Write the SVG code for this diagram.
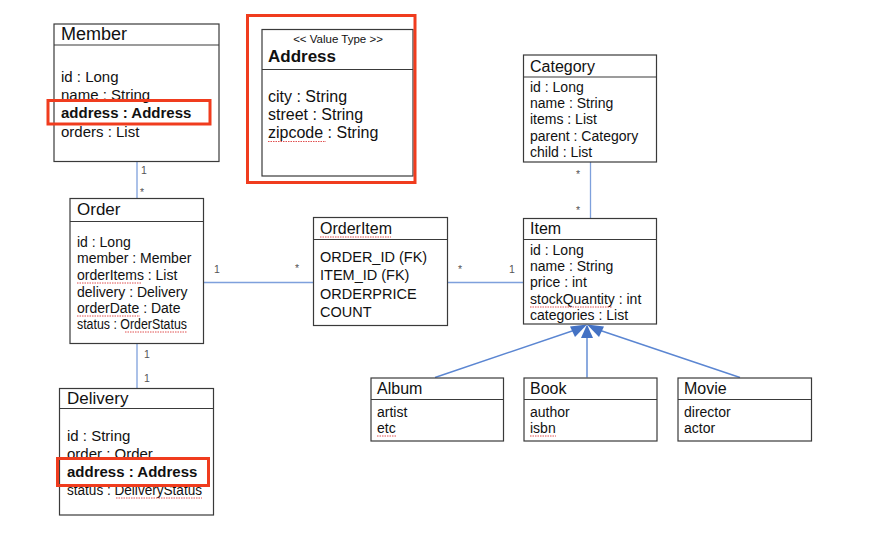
<svg xmlns="http://www.w3.org/2000/svg" width="877" height="533" viewBox="0 0 877 533">
<style>
.box{fill:#fff;stroke:#3a3a3a;stroke-width:1.2}
.sep{stroke:#3a3a3a;stroke-width:1.2}
.t{font-family:"Liberation Sans",Arial,sans-serif;fill:#111}
.title{font-size:17px}
.a15{font-size:15px}
.a14{font-size:14px}
.b{font-weight:bold}
.conn{stroke:#7ea0dc;stroke-width:1.3;fill:none}
.gen{stroke:#5b86d2;stroke-width:1.4;fill:none}
.head{fill:#4472c4}
.m{font-family:"Liberation Sans",Arial,sans-serif;font-size:10.5px;fill:#555}
.hl{fill:none;stroke:#f03c1e;stroke-width:3}
.spell{stroke:#e05050;stroke-width:1;stroke-dasharray:1.5 1}
</style>
<rect width="877" height="533" fill="#fff"/>

<g id="connectors">
  <line class="conn" x1="137" y1="162" x2="137" y2="198"/>
  <text class="m" x="141" y="174">1</text>
  <text class="m" x="140" y="196">*</text>
  <line class="conn" x1="137" y1="343" x2="137" y2="388"/>
  <text class="m" x="144" y="358">1</text>
  <text class="m" x="144" y="382">1</text>
  <line class="conn" x1="204" y1="282.5" x2="313" y2="282.5"/>
  <text class="m" x="214" y="273">1</text>
  <text class="m" x="295" y="272">*</text>
  <line class="conn" x1="448" y1="282.5" x2="523" y2="282.5"/>
  <text class="m" x="458" y="273">*</text>
  <text class="m" x="509" y="273">1</text>
  <line class="conn" x1="590.5" y1="162" x2="590.5" y2="218"/>
  <text class="m" x="576" y="178">*</text>
  <text class="m" x="576" y="214">*</text>
  <line class="gen" x1="435" y1="377.5" x2="578" y2="329"/>
  <line class="gen" x1="587" y1="377.5" x2="587" y2="337"/>
  <line class="gen" x1="740" y1="377.5" x2="596" y2="329"/>
  <polygon class="head" points="587,324.5 575,337 570,326.5"/>
  <polygon class="head" points="587,324.5 593,338 581,338"/>
  <polygon class="head" points="587,324.5 604,326.5 599,337"/>
</g>

<g id="member">
  <rect class="box" x="54" y="24" width="165" height="137.5"/>
  <line class="sep" x1="54" y1="45" x2="219" y2="45"/>
  <text class="t" x="61" y="40" font-size="18">Member</text>
  <text class="t a15" x="61" y="82">id : Long</text>
  <text class="t a15" x="61" y="100">name : String</text>
  <text class="t a15 b" x="61" y="118">address : Address</text>
  <text class="t a15" x="61" y="137">orders : List</text>
  <rect class="hl" x="48" y="100.5" width="162" height="23.5"/>
</g>

<g id="address">
  <rect class="box" x="262" y="29.5" width="151" height="146.5"/>
  <line class="sep" x1="262" y1="69.5" x2="413" y2="69.5"/>
  <text class="t" x="338" y="43" font-size="11.5" text-anchor="middle">&lt;&lt; Value Type &gt;&gt;</text>
  <text class="t b" x="268" y="62" font-size="17">Address</text>
  <text class="t" x="268" y="102" font-size="16">city : String</text>
  <text class="t" x="268" y="120" font-size="16">street : String</text>
  <text class="t" x="268" y="138" font-size="16">zipcode : String</text>
  <line class="spell" x1="268" y1="141.5" x2="326" y2="141.5"/>
  <rect class="hl" x="247.5" y="15.5" width="167.5" height="167"/>
</g>

<g id="order">
  <rect class="box" x="70" y="198.5" width="133.5" height="145"/>
  <line class="sep" x1="70" y1="221.5" x2="203.5" y2="221.5"/>
  <text class="t title" x="77" y="215">Order</text>
  <text class="t a14" x="77" y="247">id : Long</text>
  <text class="t a14" x="77" y="263">member : Member</text>
  <text class="t a14" x="77" y="280">orderItems : List</text>
  <text class="t a14" x="77" y="297">delivery : Delivery</text>
  <text class="t a14" x="77" y="313">orderDate : Date</text>
  <text class="t a14" x="77" y="329" textLength="110" lengthAdjust="spacingAndGlyphs">status : OrderStatus</text>
  <line class="spell" x1="77" y1="283" x2="142" y2="283"/>
  <line class="spell" x1="77" y1="316" x2="140" y2="316"/>
  <line class="spell" x1="125" y1="332" x2="187" y2="332"/>
</g>

<g id="orderitem">
  <rect class="box" x="313.5" y="217.5" width="134" height="108"/>
  <line class="sep" x1="313.5" y1="239.5" x2="447.5" y2="239.5"/>
  <text class="t" x="320" y="234" font-size="16">OrderItem</text>
  <text class="t" x="320" y="262" font-size="14.5">ORDER_ID (FK)</text>
  <text class="t" x="320" y="280" font-size="14.5">ITEM_ID (FK)</text>
  <text class="t" x="320" y="299" font-size="14.5">ORDERPRICE</text>
  <text class="t" x="320" y="317" font-size="14.5">COUNT</text>
  <line class="spell" x1="320" y1="237" x2="391" y2="237"/>
</g>

<g id="category">
  <rect class="box" x="523.5" y="55" width="133" height="107"/>
  <line class="sep" x1="523.5" y1="77" x2="656.5" y2="77"/>
  <text class="t" x="530" y="72" font-size="16">Category</text>
  <text class="t a14" x="530" y="92">id : Long</text>
  <text class="t a14" x="530" y="108">name : String</text>
  <text class="t a14" x="530" y="124">items : List</text>
  <text class="t a14" x="530" y="141">parent : Category</text>
  <text class="t a14" x="530" y="157">child : List</text>
</g>

<g id="item">
  <rect class="box" x="523.5" y="218.5" width="133" height="105.5"/>
  <line class="sep" x1="523.5" y1="239.5" x2="656.5" y2="239.5"/>
  <text class="t" x="530" y="234" font-size="16">Item</text>
  <text class="t a14" x="530" y="255">id : Long</text>
  <text class="t a14" x="530" y="271">name : String</text>
  <text class="t a14" x="530" y="287">price : int</text>
  <text class="t a14" x="530" y="304">stockQuantity : int</text>
  <text class="t a14" x="530" y="320">categories : List</text>
  <line class="spell" x1="530" y1="307" x2="612" y2="307"/>
</g>

<g id="delivery">
  <rect class="box" x="59.5" y="388.5" width="154" height="126.5"/>
  <line class="sep" x1="59.5" y1="408.5" x2="213.5" y2="408.5"/>
  <text class="t title" x="67" y="404">Delivery</text>
  <text class="t a15" x="67" y="441">id : String</text>
  <text class="t a15" x="67" y="459">order : Order</text>
  <text class="t a15 b" x="67" y="477">address : Address</text>
  <text class="t a14" x="67" y="495" textLength="135" lengthAdjust="spacingAndGlyphs">status : DeliveryStatus</text>
  <line class="spell" x1="116" y1="498" x2="202" y2="498"/>
  <rect class="hl" x="57.5" y="458.5" width="151" height="27"/>
</g>

<g id="album">
  <rect class="box" x="371" y="378" width="132.5" height="63"/>
  <line class="sep" x1="371" y1="399.5" x2="503.5" y2="399.5"/>
  <text class="t" x="377" y="394" font-size="16">Album</text>
  <text class="t a14" x="377" y="417">artist</text>
  <text class="t a14" x="377" y="433">etc</text>
  <line class="spell" x1="377" y1="436" x2="397" y2="436"/>
</g>

<g id="book">
  <rect class="box" x="524" y="378" width="133" height="63"/>
  <line class="sep" x1="524" y1="399.5" x2="657" y2="399.5"/>
  <text class="t" x="530" y="394" font-size="16">Book</text>
  <text class="t a14" x="530" y="417">author</text>
  <text class="t a14" x="530" y="433">isbn</text>
  <line class="spell" x1="530" y1="436" x2="556" y2="436"/>
</g>

<g id="movie">
  <rect class="box" x="678" y="378" width="133.5" height="63"/>
  <line class="sep" x1="678" y1="399.5" x2="811.5" y2="399.5"/>
  <text class="t" x="684" y="394" font-size="16">Movie</text>
  <text class="t a14" x="684" y="417">director</text>
  <text class="t a14" x="684" y="433">actor</text>
</g>
</svg>
